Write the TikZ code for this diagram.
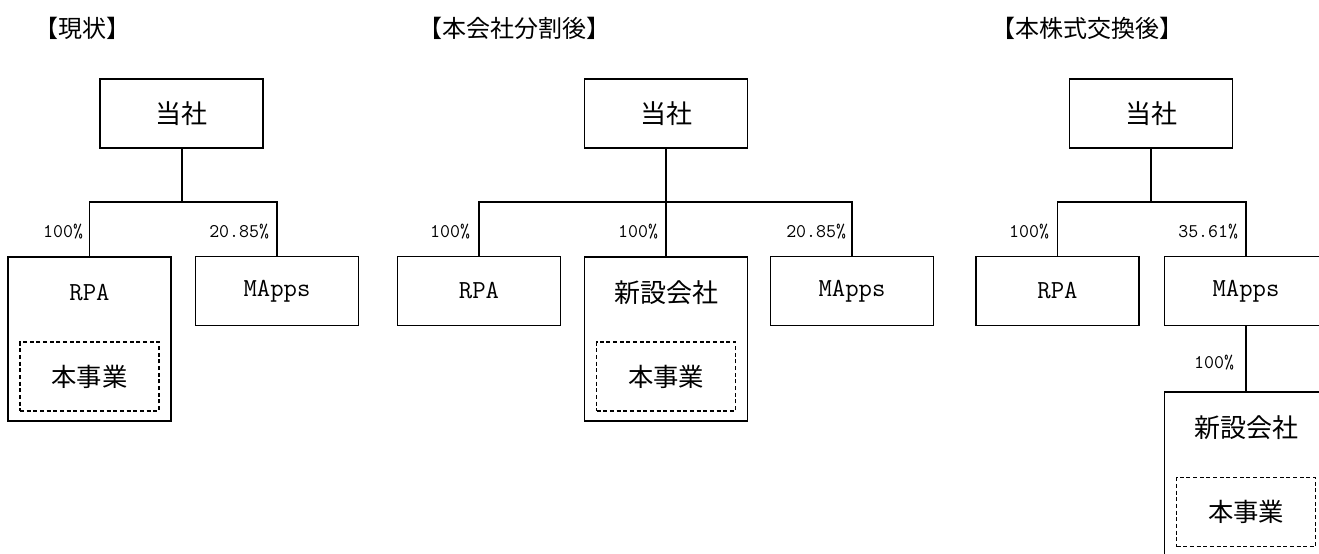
\documentclass[tikz,border=0pt]{standalone}
\usepackage{fontspec}
\newfontfamily\jp{Noto Sans CJK JP}
\begin{document}
\begin{tikzpicture}[x=0.75pt,y=-0.75pt,
  every node/.style={inner sep=0pt, outer sep=0pt},
  box/.style={draw, line width=0.85pt, minimum width=122.25pt, minimum height=51.75pt, font=\fontsize{18}{20}\selectfont},
  tallbox/.style={draw, line width=0.85pt, minimum width=122.25pt, minimum height=123pt},
  inbox/.style={draw, line width=0.8pt, dash pattern=on 3pt off 2pt, minimum width=104.25pt, minimum height=51.75pt, font=\fontsize{19}{21}\selectfont\jp},
  boxtext/.style={font=\fontsize{19.5}{21}\selectfont},
  title/.style={font=\fontsize{18}{20}\selectfont\jp},
  pct/.style={font=\fontsize{14.5}{16}\selectfont\ttfamily, anchor=east},
  stem/.style={line width=1.5pt},
  conn/.style={line width=0.9pt}]
\useasboundingbox (0,0) rectangle (1319,553);
\clip (0,0) rectangle (1319,553);

% titles
\node[title] (t1) at (82.5,28) {【現状】};
\node[title] (t2) at (514,28) {【本会社分割後】};
\node[title] (t3) at (1087,28) {【本株式交換後】};

% ---- panel 1 ----
\node[box, font=\fontsize{19.5}{21}\selectfont\jp] (top1) at (181.5,113.5) {当社};
\node[tallbox] (RPA1) at (89.5,339) {};
\node[boxtext, font=\fontsize{19.5}{21}\selectfont\ttfamily] (RPA1t) at (89.5,293) {RPA};
\node[inbox] (biz1) at (89.5,376.5) {本事業};
\node[box, font=\fontsize{19.5}{21}\selectfont\ttfamily] (MA1) at (277,291) {MApps};
\coordinate (j1) at (181.5,202);
\draw[stem] (top1.south) -- (j1);
\draw[conn] (RPA1.north) |- (j1) -| (MA1.north);
\node[pct] (p11) at (83,232) {100\%};
\node[pct] (p12) at (269,232) {20.85\%};

% ---- panel 2 ----
\node[box, font=\fontsize{19.5}{21}\selectfont\jp] (top2) at (666,113.5) {当社};
\node[box, font=\fontsize{19.5}{21}\selectfont\ttfamily] (RPA2) at (479,291) {RPA};
\node[tallbox] (new2) at (666,339) {};
\node[boxtext, font=\fontsize{19.5}{21}\selectfont\jp] (new2t) at (666,293) {新設会社};
\node[inbox] (biz2) at (666,376.5) {本事業};
\node[box, font=\fontsize{19.5}{21}\selectfont\ttfamily] (MA2) at (852,291) {MApps};
\coordinate (j2) at (666,202);
\draw[stem] (top2.south) -- (j2);
\draw[conn] (RPA2.north) |- (j2) -| (MA2.north);
\draw[conn] (j2) -- (new2.north);
\node[pct] (p21) at (470,232) {100\%};
\node[pct] (p22) at (658,232) {100\%};
\node[pct] (p23) at (846,232) {20.85\%};

% ---- panel 3 ----
\node[box, font=\fontsize{19.5}{21}\selectfont\jp] (top3) at (1151,113.5) {当社};
\node[box, font=\fontsize{19.5}{21}\selectfont\ttfamily] (RPA3) at (1057.5,291) {RPA};
\node[box, font=\fontsize{19.5}{21}\selectfont\ttfamily] (MA3) at (1246,291) {MApps};
\node[tallbox] (new3) at (1246,474) {};
\node[boxtext, font=\fontsize{19.5}{21}\selectfont\jp] (new3t) at (1246,428) {新設会社};
\node[inbox] (biz3) at (1246,512) {本事業};
\coordinate (j3) at (1151,202);
\draw[stem] (top3.south) -- (j3);
\draw[conn] (RPA3.north) |- (j3) -| (MA3.north);
\draw[conn] (MA3.south) -- (new3.north);
\node[pct] (p31) at (1049,232) {100\%};
\node[pct] (p32) at (1238,232) {35.61\%};
\node[pct] (p33) at (1234,363) {100\%};
\end{tikzpicture}
\end{document}
